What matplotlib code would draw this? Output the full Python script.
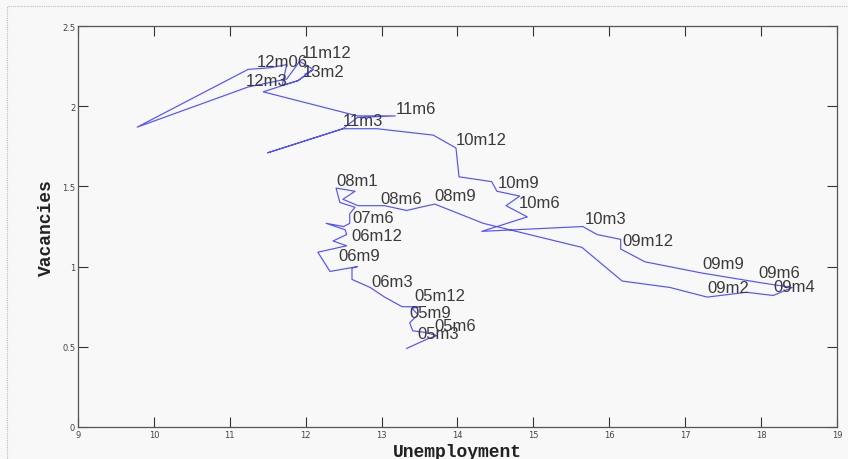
import matplotlib
matplotlib.use("Agg")
import matplotlib.pyplot as plt
from matplotlib.patches import Rectangle

# Beveridge curve path, unemployment (u) vs vacancies (v), 2005m1 -> 2013m2
u = [13.33, 13.47, 13.61, 13.73, 13.57, 13.41, 13.37, 13.48, 13.40, 13.51,
     13.27, 13.04, 12.85, 12.61, 12.61, 12.68, 12.32, 12.16, 12.54, 12.36,
     12.54, 12.52, 12.27, 12.50, 12.58, 12.58, 12.65, 12.45, 12.40, 12.65,
     12.49, 12.69, 13.04, 13.33, 13.51, 13.70, 14.34, 15.64, 16.17, 16.80,
     17.29, 17.81, 18.16, 18.41, 17.99, 17.22, 16.47, 16.15, 16.15, 15.84,
     15.65, 14.32, 14.92, 14.64, 14.82, 14.52, 14.45, 14.02, 13.98, 13.68,
     12.94, 12.49, 11.50, 12.49, 12.68, 13.18, 12.68, 11.44, 11.70, 11.90,
     12.10, 11.92, 11.75, 11.24, 9.78, 11.24, 11.53, 11.75, 11.69, 11.90,
     12.10, 11.99]
v = [0.49, 0.52, 0.55, 0.57, 0.59, 0.60, 0.65, 0.70, 0.74, 0.75,
     0.75, 0.81, 0.87, 0.92, 0.99, 1.00, 0.97, 1.09, 1.13, 1.16,
     1.20, 1.23, 1.27, 1.25, 1.27, 1.33, 1.37, 1.40, 1.49, 1.47,
     1.42, 1.38, 1.38, 1.35, 1.37, 1.39, 1.27, 1.12, 0.91, 0.87,
     0.81, 0.84, 0.82, 0.87, 0.90, 0.96, 1.03, 1.11, 1.17, 1.20,
     1.25, 1.22, 1.31, 1.38, 1.44, 1.47, 1.53, 1.56, 1.74, 1.82,
     1.86, 1.86, 1.71, 1.86, 1.93, 1.94, 1.94, 2.09, 2.13, 2.16,
     2.23, 2.28, 2.17, 2.12, 1.87, 2.23, 2.24, 2.26, 2.13, 2.16,
     2.23, 2.20]

label_text = ["05m3", "05m6", "05m9", "05m12", "06m3", "06m9", "06m12", "07m6",
              "08m1", "08m6", "08m9", "09m2", "09m4", "09m6", "09m9", "09m12",
              "10m3", "10m6", "10m9", "10m12", "11m3", "11m6", "11m12", "12m06",
              "13m2", "12m3"]
label_u = [13.47, 13.70, 13.36, 13.43, 12.87, 12.43, 12.60, 12.62,
           12.40, 12.98, 13.70, 17.29, 18.16, 17.97, 17.22, 16.17,
           15.68, 14.81, 14.53, 13.98, 12.49, 13.19, 11.95, 11.35,
           11.96, 11.21]
label_v = [0.580, 0.630, 0.711, 0.817, 0.910, 1.072, 1.197, 1.309,
           1.540, 1.426, 1.446, 0.867, 0.879, 0.966, 1.022, 1.166,
           1.303, 1.403, 1.527, 1.791, 1.914, 1.989, 2.338, 2.282,
           2.219, 2.163]

x_ticks = list(range(9, 20))
y_ticks = [0, 0.5, 1, 1.5, 2, 2.5]
y_tick_labels = ["0", "0.5", "1", "1.5", "2", "2.5"]

bg = "#f8f8f8"
fig = plt.figure(figsize=(8.48, 4.6), dpi=100, facecolor=bg)
fig.patches.append(Rectangle((0.008, -0.01), 1.1, 0.995, transform=fig.transFigure,
                             fill=False, edgecolor="#bbbbbb", linestyle=(0, (1, 1)), linewidth=0.8))
ax = fig.add_axes([0.092, 0.0696, 0.895, 0.8715], facecolor=bg)

ax.plot(u, v, color=(0.25, 0.25, 1.0), linewidth=0.85, alpha=0.9)
for t, x, y in zip(label_text, label_u, label_v):
    ax.text(x, y, t, ha="left", va="center", fontsize=12, color="#3a3a3a",
            family="Liberation Sans")

ax.set_xlim(9, 19)
ax.set_ylim(0, 2.5)
ax.set_xticks(x_ticks)
ax.set_xticklabels([str(t) for t in x_ticks])
ax.set_yticks(y_ticks)
ax.set_yticklabels(y_tick_labels)
ax.tick_params(direction="in", length=7, width=0.8, color="#333333", labelsize=6,
               labelcolor="#444444", top=True, right=True, pad=2)
for s in ax.spines.values():
    s.set_color("#555555")
    s.set_linewidth(0.9)

ax.set_xlabel("Unemployment", family="Liberation Mono", fontweight="bold", fontsize=13,
              color="#222222", labelpad=3)
ax.set_ylabel("Vacancies", family="Liberation Mono", fontweight="bold", fontsize=13,
              color="#222222", labelpad=5)

fig.savefig("out.png", dpi=100, facecolor=bg)
